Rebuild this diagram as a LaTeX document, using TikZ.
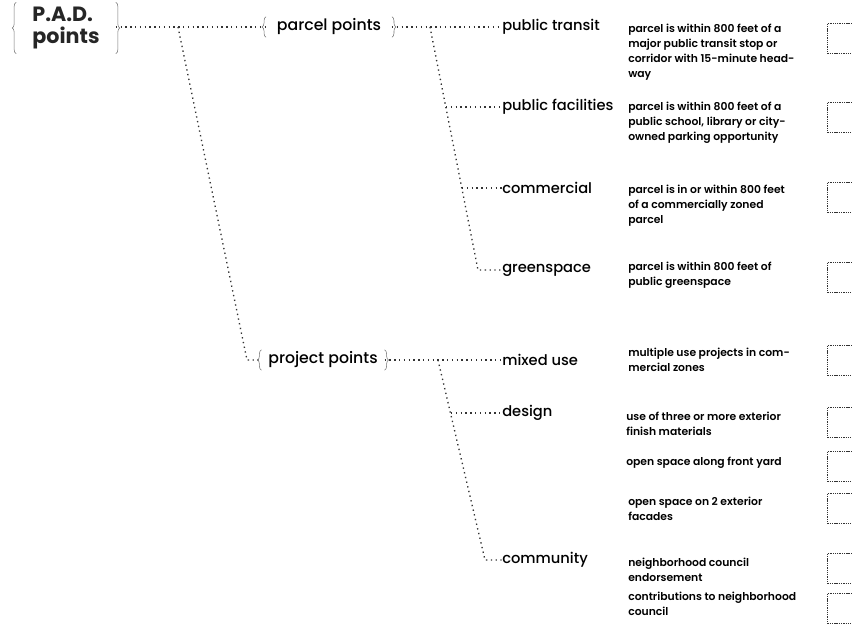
\documentclass[tikz,border=0pt]{standalone}
\usepackage{fontspec}
\setmainfont{Poppins}
\newfontfamily\medfont{Poppins Medium}
\newfontfamily\descfont{Poppins SemiBold}
\usetikzlibrary{decorations.pathreplacing}

\tikzset{
  lbl/.style={font=\fontsize{11}{12}\medfont, inner sep=0pt, anchor=west},
  grp/.style={font=\fontsize{11.8}{13}\medfont, inner xsep=8pt, inner ysep=0pt, minimum height=15pt},
  desc/.style={font=\fontsize{8.1}{11.25}\descfont, align=left, anchor=north west, inner sep=0pt},
  tick/.style={draw=black!80, dash pattern=on 1pt off 0.7pt, line width=0.6pt, minimum width=32pt, minimum height=22.5pt, anchor=north west, inner sep=0pt},
  dots/.style={draw=black!80, line width=1pt, dash pattern=on 1pt off 2.6pt},
  brc/.style={draw=black!55, line width=0.4pt, decorate, decoration={brace, amplitude=3pt}}
}

\begin{document}
\begin{tikzpicture}[x=0.75pt, y=-0.75pt]
  \clip (0,0) rectangle (852,627);

  % groups
  \node[font=\fontsize{15.5}{17}\selectfont\bfseries, text=black!85, align=left, inner xsep=12pt, inner ysep=3pt] (pad) at (66,28) {P.A.D.\\points};
  \node[grp] (parcel) at (329,27) {parcel points};
  \node[grp, inner xsep=5pt] (project) at (323,360) {project points};
  \draw[brc] (pad.south west) -- (pad.north west);
  \draw[brc] (pad.north east) -- (pad.south east);
  \draw[brc] (parcel.south west) -- (parcel.north west);
  \draw[brc] (parcel.north east) -- (parcel.south east);
  \draw[brc] (project.south west) -- (project.north west);
  \draw[brc] (project.north east) -- (project.south east);

  % categories
  \node[lbl] (transit) at (502,27) {public transit};
  \node[lbl] (facil) at (502,107) {public facilities};
  \node[lbl] (comm) at (502,188) {commercial};
  \node[lbl] (green) at (502,270) {greenspace};
  \node[lbl] (mixed) at (502,360) {mixed use};
  \node[lbl] (design) at (502,413) {design};
  \node[lbl] (commty) at (502,560) {community};

  % junctions
  \coordinate (j1) at (178,27);
  \coordinate (j1b) at (247,360);
  \coordinate (j2) at (430,27);
  \coordinate (j2a) at (446,107);
  \coordinate (j2b) at (462,188);
  \coordinate (j2c) at (478,270);
  \coordinate (j3) at (438,360);
  \coordinate (j3a) at (451,413);
  \coordinate (j3b) at (485,560);

  \draw[dots] (pad.east |- parcel) -- (parcel.west);
  \draw[dots] (j1) -- (j1b) -- (project.west);
  \draw[dots] (parcel.east) -- (transit.west);
  \draw[dots] (j2) -- (j2c) -- (green.west);
  \draw[dots] (j2a) -- (facil.west);
  \draw[dots] (j2b) -- (comm.west);
  \draw[dots] (project.east) -- (mixed.west);
  \draw[dots] (j3) -- (j3b) -- (commty.west);
  \draw[dots] (j3a) -- (design.west);

  % descriptions
  \node[desc] (d1) at (628,24) {parcel is within 800 feet of a\\major public transit stop or\\corridor with 15-minute head-\\way};
  \node[desc] (d2) at (628,102) {parcel is within 800 feet of a\\public school, library or city-\\owned parking opportunity};
  \node[desc] (d3) at (628,185) {parcel is in or within 800 feet\\of a commercially zoned\\parcel};
  \node[desc] (d4) at (628,262) {parcel is within 800 feet of\\public greenspace};
  \node[desc] (d5) at (628,348) {multiple use projects in com-\\mercial zones};
  \node[desc] (d6) at (626,412) {use of three or more exterior\\finish materials};
  \node[desc] (d7) at (626,457) {open space along front yard};
  \node[desc] (d8) at (628,497) {open space on 2 exterior\\facades};
  \node[desc] (d9) at (628,558) {neighborhood council\\endorsement};
  \node[desc] (d10) at (628,592) {contributions to neighborhood\\council};

  % check boxes
  \node[tick] (b1) at (827,23) {};
  \node[tick] (b2) at (827,102) {};
  \node[tick] (b3) at (827,182) {};
  \node[tick] (b4) at (827,262) {};
  \node[tick] (b5) at (827,345) {};
  \node[tick] (b6) at (827,407) {};
  \node[tick] (b7) at (827,451) {};
  \node[tick] (b8) at (827,493) {};
  \node[tick] (b9) at (827,553) {};
  \node[tick] (b10) at (827,593) {};
\end{tikzpicture}
\end{document}
